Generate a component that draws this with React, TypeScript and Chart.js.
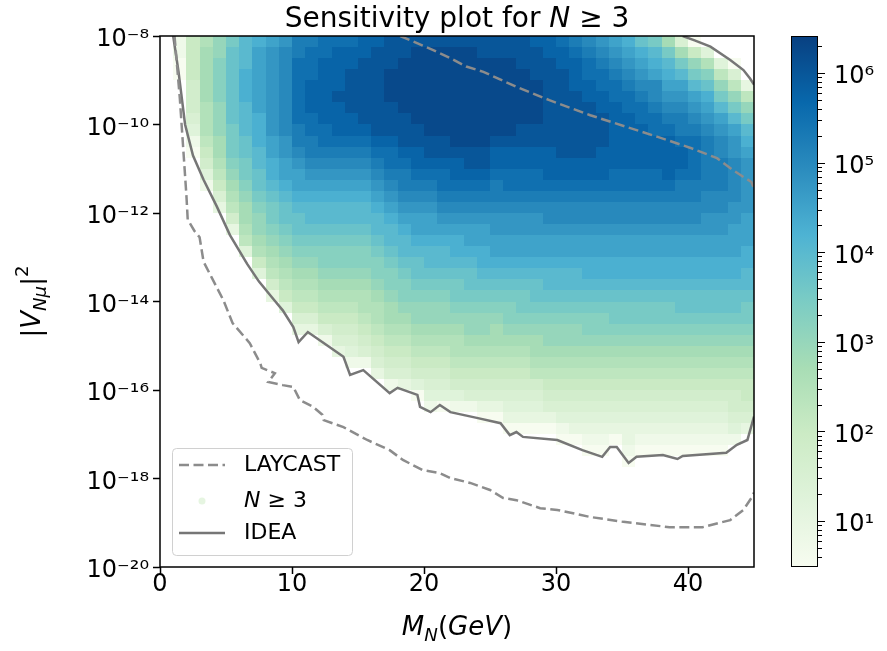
import React, { useEffect, useRef } from "react";
import { Chart, registerables } from "chart.js";

Chart.register(...registerables);

const FAMILY = "'DejaVu Sans', 'Liberation Sans', sans-serif";

// ---------- axes ----------
const X_MIN = 0;
const X_MAX = 45;
const X_TICKS = [0, 10, 20, 30, 40];
const Y_MIN = 1e-20;
const Y_MAX = 1e-8;
const Y_TICK_EXPONENTS = [-20, -18, -16, -14, -12, -10, -8];

// ---------- colour bar ----------
const CB_MIN = 3.07;
const CB_MAX = 2.6e6;
const CB_MAJOR_EXPONENTS = [1, 2, 3, 4, 5, 6];
const CB_MINOR_VALUES = [
  4, 5, 6, 7, 8, 9,
  20, 30, 40, 50, 60, 70, 80, 90,
  200, 300, 400, 500, 600, 700, 800, 900,
  2000, 3000, 4000, 5000, 6000, 7000, 8000, 9000,
  20000, 30000, 40000, 50000, 60000, 70000, 80000, 90000,
  200000, 300000, 400000, 500000, 600000, 700000, 800000, 900000,
  2000000,
];

// ---------- heat map grid (M_N columns, log10|V|^2 rows) ----------
const MASS_EDGES = [
  0, 1, 2, 3, 4, 5, 6, 7, 8, 9, 10, 11, 12, 13, 14, 15, 16, 17, 18, 19, 20, 21, 22,
  23, 24, 25, 26, 27, 28, 29, 30, 31, 32, 33, 34, 35, 36, 37, 38, 39, 40, 41, 42, 43, 44, 45,
];
const LOGV_EDGES = [
  -8, -8.25, -8.5, -8.75, -9, -9.25, -9.5, -9.75, -10, -10.25, -10.5, -10.75, -11, -11.25,
  -11.5, -11.75, -12, -12.25, -12.5, -12.75, -13, -13.25, -13.5, -13.75, -14, -14.25, -14.5,
  -14.75, -15, -15.25, -15.5, -15.75, -16, -16.25, -16.5, -16.75, -17, -17.25, -17.5, -17.75, -18,
];
// one letter per cell = log10(number of events); "." or missing = no events
const LEVEL_CODES = "abcdefghijklmnopqrstuvwxy";
const LEVEL_LOG10N = [
  0.5, 0.75, 1, 1.25, 1.5, 1.75, 2, 2.25, 2.5, 2.75, 3, 3.25, 3.5, 3.75, 4, 4.25, 4.5,
  4.75, 5, 5.25, 5.5, 5.75, 6, 6.25, 6.5,
];
// each string is one mass column, read from |V|^2 = 1e-8 downwards
const COUNT_COLUMNS = [
  "",
  "bbaa",
  "ggggfffedba",
  "ijjjjjiiihgfdb",
  "kkllllkkkjjihgec",
  "mnnnnnnnmmmlkjihfc",
  "ooopppooonnmmlkjjihd",
  "pqqqqqqpppoonnmlkkjigd",
  "qrrrrrrrrqqpponmmlkjihfc",
  "rssssssssrrqqponnmlkjihgd",
  "ttuuuuuuttsrqqponnmlkjihgec",
  "tuuuvvvuuttsrqpoonmlkjihgec",
  "uuvvvvvvuutsrqpoonmllkjihgeb",
  "uvvvvwvvvutsrqpoonmllkjihgfec",
  "uvvwwwwvvutsrqpoonmllkjihgfedb",
  "vvwwwwwwvutsrqpoonmllkjiihgfeb",
  "vwwwwwwwwvutsrqpoonmllkjiihgfec",
  "wwwxxxwwwvuutsrqpoonmllkjjihgfeb",
  "wwxxxxxwwwvuttsrqpoonmllkjihgfec",
  "wxxxxxxxwwvvutsrqqponnmlkkjihgfda",
  "wxxxxxxxxwwvutsrqqpoonmlkkjihgfedb",
  "wxxxxxxxxwwvuutsrqpoonmlkkjihgfeda",
  "wxxxxxxxxxwvvutsrqpponmmlkjiihgfdb",
  "wxxxxxxxxxwwvutsrqqponnmlkkjihgfeb",
  "wwxxxxxxxxwwvutsrqqpponmlkkjihgfeca",
  "wwxxxxxxxwvvuttsrrqqponmlkjjihgfeca",
  "wwxxxxxxxwvvuutsrrqqponmllkjihgfedca",
  "wwwxxxxxwwvvuutsrrqqponmmlkjihgfedca",
  "vwwwxxxxwwvvuutsrrqqponnmlkjjihfedca",
  "vvwwwwwwwwvvvutssrqqpoonmlkkjihgfeca",
  "uvvwwwwwwwwvvutssrqqpoonmlkkjihgfedba",
  "tuvvvwwwwwwvvutssrqqpoonmlkkjihgfedca",
  "stuuvvwwwwwvvutssrqqpponmllkjihgfedcba",
  "rstuuvvwwwvvvutssrqqpponmllkjihgfedcba",
  "qrstuuvvvvvvuutssrqqpponmmlkjihgfedca",
  "pqrstuuvvvvvuutssrqqpponmmlkjihgfedccba",
  "npqrstuuvvvvuutssrqqpponmmlkjihgfedcba",
  "mopqsstuuvvvuutssrqqpponmmlkjihgfedcba",
  "jmopqrstuvvvvutssrqqpponmmlkjihgfedcba",
  "ejmoqrsttuvvuttssrqqpponnmlkjihgfedcba",
  "agkmoqrstuuuuttssrqqpponnmlkjihgfedcba",
  ".dilnpqrstttttssrrqqpponnmlkjihgfedcba",
  "..dhkmoqrsstttssrrqqpponnmlkjihgfedcba",
  "..aehkmoqrrssssrrqqqpponnmlkjihgffedb",
  "....chkmopqrrrrrqqqppoonmmlkjihggfec",
];

// ---------- curves (M_N in GeV, log10 |V|^2) ----------
const LAYCAST_M = [
  1.1, 1.5, 1.75, 2.0, 2.1, 2.6, 3.0, 3.3, 3.9, 4.8, 5.5, 6.8, 7.6, 7.7, 8.7, 8.2, 9.3, 10.1,
  10.6, 11.6, 12.3, 12.4, 13.9, 15.7, 17.4, 18.4, 19.9, 21.2, 22.0, 23.5, 25.0, 26.0, 27.0,
  28.8, 30.1, 32.6, 35.1, 38.6, 41.1, 43.2, 44.2, 44.8, 45.0,
];
const LAYCAST_LOGV = [
  -8.0, -9.4, -10.5, -11.6, -12.15, -12.4, -12.55, -13.1, -13.45, -13.97, -14.49, -14.94,
  -15.4, -15.5, -15.62, -15.82, -15.89, -15.93, -16.23, -16.38, -16.56, -16.68, -16.84,
  -17.13, -17.36, -17.58, -17.81, -17.88, -17.99, -18.1, -18.26, -18.44, -18.49, -18.67,
  -18.71, -18.87, -18.98, -19.1, -19.1, -18.94, -18.71, -18.44, -18.32,
];
const LAYCAST_TOP_M = [18.2, 20.7, 22.0, 23.2, 24.5, 27.0, 29.5, 32.6, 35.4, 37.7, 40.2, 42.2, 43.4, 44.8, 45.0];
const LAYCAST_TOP_LOGV = [-8.0, -8.32, -8.5, -8.69, -8.81, -9.15, -9.45, -9.79, -10.06, -10.28, -10.53, -10.76, -11.03, -11.3, -11.45];

const IDEA_M = [
  1.0, 1.4, 1.9, 2.5, 3.3, 4.3, 5.3, 6.6, 7.5, 8.6, 9.3, 10.1, 10.5, 11.2, 12.4, 13.9, 14.4,
  15.4, 17.4, 18.0, 19.5, 19.7, 20.5, 21.2, 22.0, 24.0, 25.8, 26.5, 27.0, 27.5, 30.1, 32.0,
  33.5, 34.1, 34.6, 35.5, 36.1, 38.1, 39.2, 39.6, 42.9, 43.7, 44.5, 45.0,
];
const IDEA_LOGV = [
  -8.0, -8.8, -10.0, -10.7, -11.25, -11.85, -12.5, -13.15, -13.55, -13.95, -14.2, -14.58,
  -14.92, -14.69, -14.94, -15.25, -15.66, -15.55, -16.07, -15.95, -16.11, -16.38, -16.5,
  -16.34, -16.5, -16.63, -16.75, -17.02, -16.95, -17.06, -17.13, -17.36, -17.51, -17.29,
  -17.29, -17.65, -17.51, -17.47, -17.56, -17.49, -17.42, -17.24, -17.13, -16.6,
];
const IDEA_TOP_M = [39.6, 40.5, 41.7, 43.2, 44.2, 44.7, 45.0];
const IDEA_TOP_LOGV = [-8.0, -8.1, -8.24, -8.54, -8.77, -8.96, -9.1];

// ---------- style ----------
const GNBU = [
  [247, 252, 240], [224, 243, 219], [204, 235, 197], [168, 221, 181], [123, 204, 196],
  [78, 179, 211], [43, 140, 190], [8, 104, 172], [8, 64, 129],
];

function gnbu(t: number): string {
  const tt = Math.min(1, Math.max(0, t)) * (GNBU.length - 1);
  const i = Math.min(GNBU.length - 2, Math.floor(tt));
  const f = tt - i;
  const a = GNBU[i];
  const b = GNBU[i + 1];
  const c = [0, 1, 2].map((k) => Math.round(a[k] + (b[k] - a[k]) * f));
  return `rgb(${c[0]},${c[1]},${c[2]})`;
}

const SUP: Record<string, string> = {
  "-": "\u207B", "0": "\u2070", "1": "\u00B9", "2": "\u00B2", "3": "\u00B3", "4": "\u2074",
  "5": "\u2075", "6": "\u2076", "7": "\u2077", "8": "\u2078", "9": "\u2079",
};
function powLabel(exp: number): string {
  return "10" + String(exp).split("").map((ch) => SUP[ch] || ch).join("");
}

type Part = { t: string; it?: boolean; s?: number; dy?: number };
function drawRich(ctx: CanvasRenderingContext2D, parts: Part[], x: number, y: number, size: number, align: "center" | "left") {
  const fonts = parts.map((p) => `${p.it ? "italic " : ""}${(size * (p.s ?? 1)).toFixed(1)}px ${FAMILY}`);
  const widths = parts.map((p, i) => {
    ctx.font = fonts[i];
    return ctx.measureText(p.t).width;
  });
  const total = widths.reduce((a, b) => a + b, 0);
  let cx = align === "center" ? x - total / 2 : x;
  ctx.textAlign = "left";
  parts.forEach((p, i) => {
    ctx.font = fonts[i];
    ctx.fillText(p.t, cx, y + (p.dy ?? 0) * size);
    cx += widths[i];
  });
}

const toPoints = (ms: number[], lv: number[]) => ms.map((m, i) => ({ x: m, y: Math.pow(10, lv[i]) }));

const heatmapPlugin = {
  id: "heatmap",
  beforeDatasetsDraw(chart: any) {
    const { ctx, chartArea, scales } = chart;
    const xs = scales.x;
    const ys = scales.y;
    const lmin = Math.log10(CB_MIN);
    const lmax = Math.log10(CB_MAX);
    ctx.save();
    ctx.beginPath();
    ctx.rect(chartArea.left, chartArea.top, chartArea.width, chartArea.height);
    ctx.clip();
    COUNT_COLUMNS.forEach((col, c) => {
      const x0 = Math.round(xs.getPixelForValue(MASS_EDGES[c]));
      const x1 = Math.round(xs.getPixelForValue(MASS_EDGES[c + 1]));
      for (let r = 0; r < col.length && r < LOGV_EDGES.length - 1; r++) {
        const idx = LEVEL_CODES.indexOf(col[r]);
        if (idx < 0) continue;
        const v = LEVEL_LOG10N[idx];
        const y0 = Math.round(ys.getPixelForValue(Math.pow(10, LOGV_EDGES[r])));
        const y1 = Math.round(ys.getPixelForValue(Math.pow(10, LOGV_EDGES[r + 1])));
        ctx.fillStyle = gnbu((v - lmin) / (lmax - lmin));
        ctx.fillRect(x0, y0, x1 - x0, y1 - y0);
      }
    });
    ctx.restore();
  },
};

const framePlugin = {
  id: "frame",
  afterDatasetsDraw(chart: any) {
    const { ctx, chartArea } = chart;
    ctx.save();
    ctx.strokeStyle = "#000";
    ctx.lineWidth = 1.5;
    ctx.strokeRect(chartArea.left, chartArea.top, chartArea.width, chartArea.height);
    ctx.restore();
  },
};

const decorPlugin = {
  id: "decor",
  afterDraw(chart: any) {
    const { ctx, chartArea, scales } = chart;
    const cb = scales.cb;
    ctx.save();

    // colour bar
    const bx0 = chartArea.right + 37;
    const bx1 = chartArea.right + 64;
    const top = cb.getPixelForValue(CB_MAX);
    const bot = cb.getPixelForValue(CB_MIN);
    const grad = ctx.createLinearGradient(0, bot, 0, top);
    GNBU.forEach((_, i) => grad.addColorStop(i / (GNBU.length - 1), gnbu(i / (GNBU.length - 1))));
    ctx.fillStyle = grad;
    ctx.fillRect(bx0, top, bx1 - bx0, bot - top);
    ctx.strokeStyle = "#000";
    ctx.lineWidth = 1;
    ctx.strokeRect(bx0 + 0.5, top + 0.5, bx1 - bx0 - 1, bot - top - 1);
    ctx.lineWidth = 1;
    cb.ticks.forEach((t: any) => {
      const py = Math.round(cb.getPixelForValue(t.value)) + 0.5;
      const major = CB_MAJOR_EXPONENTS.some((e) => Math.abs(Math.pow(10, e) - t.value) < 1e-9 * t.value);
      ctx.beginPath();
      ctx.moveTo(bx1, py);
      ctx.lineTo(bx1 + (major ? 7 : 4), py);
      ctx.stroke();
    });

    // title
    ctx.fillStyle = "#000";
    ctx.textBaseline = "alphabetic";
    const cx = (chartArea.left + chartArea.right) / 2;
    drawRich(ctx, [{ t: "Sensitivity plot for " }, { t: "N", it: true }, { t: " \u2265 3" }], cx, 27, 28, "center");

    // x-axis title
    drawRich(
      ctx,
      [{ t: "M", it: true }, { t: "N", it: true, s: 0.7, dy: 0.22 }, { t: "(" }, { t: "GeV", it: true }, { t: ")" }],
      cx, 635, 26, "center"
    );

    // y-axis title
    ctx.save();
    ctx.translate(40, (chartArea.top + chartArea.bottom) / 2);
    ctx.rotate(-Math.PI / 2);
    drawRich(
      ctx,
      [{ t: "|" }, { t: "V", it: true }, { t: "N\u03BC", it: true, s: 0.7, dy: 0.22 }, { t: "|" }, { t: "2", s: 0.7, dy: -0.45 }],
      0, 0, 26, "center"
    );
    ctx.restore();

    // legend
    const lx = chartArea.left + 12;
    const ly = chartArea.bottom - 119;
    ctx.beginPath();
    ctx.roundRect(lx + 0.5, ly + 0.5, 180, 107, 4);
    ctx.fillStyle = "rgba(255,255,255,0.8)";
    ctx.fill();
    ctx.strokeStyle = "#d0d0d0";
    ctx.lineWidth = 1;
    ctx.stroke();
    const rows = [ly + 17, ly + 53, ly + 85];
    chart.data.datasets.forEach((ds: any, i: number) => {
      const ry = rows[i];
      if (ds.type === "scatter") {
        ctx.beginPath();
        ctx.arc(lx + 30, ry, 3.5, 0, Math.PI * 2);
        ctx.fillStyle = ds.backgroundColor;
        ctx.fill();
      } else {
        ctx.beginPath();
        ctx.setLineDash(ds.borderDash || []);
        ctx.strokeStyle = ds.borderColor;
        ctx.lineWidth = ds.borderWidth;
        ctx.moveTo(lx + 7, ry);
        ctx.lineTo(lx + 53, ry);
        ctx.stroke();
        ctx.setLineDash([]);
      }
      ctx.fillStyle = "#000";
      ctx.textBaseline = "middle";
      const parts: Part[] = ds.label === "N \u2265 3" ? [{ t: "N", it: true }, { t: " \u2265 3" }] : [{ t: ds.label }];
      drawRich(ctx, parts, lx + 72, ry, 22, "left");
    });
    ctx.restore();
  },
};

export default function App() {
  const ref = useRef<HTMLCanvasElement>(null);

  useEffect(() => {
    const canvas = ref.current;
    if (!canvas) return;

    const laycast = [
      ...toPoints(LAYCAST_M, LAYCAST_LOGV),
      { x: 45, y: null },
      ...toPoints(LAYCAST_TOP_M, LAYCAST_TOP_LOGV),
    ];
    const idea = [...toPoints(IDEA_M, IDEA_LOGV), { x: 45, y: null }, ...toPoints(IDEA_TOP_M, IDEA_TOP_LOGV)];

    const tickFont = { family: FAMILY, size: 24, lineHeight: 1 };

    const chart = new Chart(canvas, {
      type: "line",
      data: {
        datasets: [
          {
            label: "LAYCAST",
            data: laycast as any,
            borderColor: "#8c8c8c",
            borderWidth: 2.5,
            borderDash: [10, 4.5],
            pointRadius: 0,
            tension: 0,
            spanGaps: false,
            fill: false,
          },
          {
            type: "scatter",
            label: "N \u2265 3",
            data: [],
            backgroundColor: "#e6f5e1",
            pointBackgroundColor: "#e6f5e1",
            pointRadius: 3.5,
          } as any,
          {
            label: "IDEA",
            data: idea as any,
            borderColor: "#767676",
            borderWidth: 2.5,
            pointRadius: 0,
            tension: 0,
            spanGaps: false,
            fill: false,
          },
        ],
      },
      options: {
        responsive: false,
        animation: false,
        devicePixelRatio: 1,
        layout: { padding: { top: 36, left: 0, right: 0, bottom: 0 } },
        plugins: {
          legend: { display: false },
          title: { display: false },
          tooltip: { enabled: false },
        },
        scales: {
          x: {
            type: "linear",
            min: X_MIN,
            max: X_MAX,
            afterBuildTicks: (s: any) => {
              s.ticks = X_TICKS.map((v) => ({ value: v }));
            },
            afterFit: (s: any) => {
              s.height = 84;
            },
            ticks: { font: tickFont, color: "#000", padding: -1, maxRotation: 0, autoSkip: false },
            grid: { drawOnChartArea: false, drawTicks: true, tickLength: 7, tickWidth: 1.5, tickColor: "#000" },
            border: { display: false },
          },
          y: {
            type: "logarithmic",
            min: Y_MIN,
            max: Y_MAX,
            afterBuildTicks: (s: any) => {
              s.ticks = Y_TICK_EXPONENTS.map((e) => ({ value: Math.pow(10, e) }));
            },
            afterFit: (s: any) => {
              s.width = 160;
            },
            ticks: {
              font: tickFont,
              color: "#000",
              padding: 4,
              labelOffset: 4,
              autoSkip: false,
              callback: (v: any) => powLabel(Math.round(Math.log10(Number(v)))),
            },
            grid: { drawOnChartArea: false, drawTicks: true, tickLength: 7, tickWidth: 1.5, tickColor: "#000" },
            border: { display: false },
          },
          cb: {
            type: "logarithmic",
            position: "right",
            min: CB_MIN,
            max: CB_MAX,
            afterBuildTicks: (s: any) => {
              const vals = [...CB_MAJOR_EXPONENTS.map((e) => Math.pow(10, e)), ...CB_MINOR_VALUES];
              s.ticks = vals.sort((a, b) => a - b).map((v) => ({ value: v }));
            },
            afterFit: (s: any) => {
              s.width = 133;
            },
            ticks: {
              font: tickFont,
              color: "#000",
              padding: 4,
              labelOffset: 4,
              autoSkip: false,
              callback: (v: any) => {
                const e = Math.log10(Number(v));
                return Math.abs(e - Math.round(e)) < 1e-6 ? powLabel(Math.round(e)) : "";
              },
            },
            grid: { display: false, drawOnChartArea: false, drawTicks: true, tickLength: 76 },
            border: { display: false },
          },
        },
      } as any,
      plugins: [heatmapPlugin, framePlugin, decorPlugin],
    });

    return () => chart.destroy();
  }, []);

  return (
    <div style={{ position: "fixed", left: 0, top: 0, width: 887, height: 651, background: "#fff" }}>
      <canvas ref={ref} width={887} height={651} style={{ display: "block", width: 887, height: 651 }} />
    </div>
  );
}
